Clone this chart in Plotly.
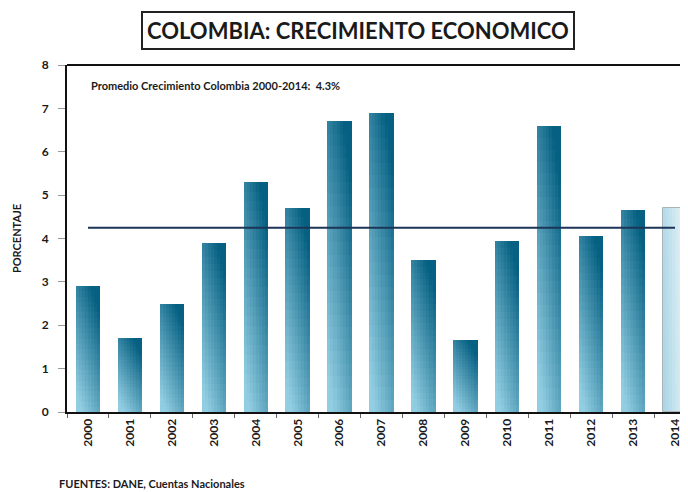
import plotly.graph_objects as go

# ---- data ----
anios = ["2000", "2001", "2002", "2003", "2004", "2005", "2006", "2007",
         "2008", "2009", "2010", "2011", "2012", "2013", "2014"]
crecimiento = [2.9, 1.7, 2.5, 3.9, 5.3, 4.7, 6.7, 6.9,
               3.5, 1.65, 3.95, 6.6, 4.05, 4.65, 4.7]
promedio = 4.25
y_ticks = [0, 1, 2, 3, 4, 5, 6, 7, 8]

titulo = "COLOMBIA: CRECIMIENTO ECONOMICO"
nota = "Promedio Crecimiento Colombia 2000-2014:  4.3%"
fuente = "FUENTES: DANE, Cuentas Nacionales"

# ---- styling ----
FONT = "Lato"
TXT = "#1a1a1a"
BAR_W = 0.58
LIGHT = (146, 206, 226)
DARK = (6, 96, 130)
PALE_L = (168, 212, 228)
PALE_R = (238, 247, 250)
N_COL, N_ROW = 8, 24


def mix(a, b, t):
    t = max(0.0, min(1.0, t))
    return "rgb(%d,%d,%d)" % tuple(round(a[k] + (b[k] - a[k]) * t) for k in range(3))


n = len(anios)
last = n - 1
fig = go.Figure()

# underlying solid bars (avoid seams)
fig.add_trace(go.Bar(
    x=anios, y=crecimiento, width=BAR_W,
    marker=dict(color=[mix(LIGHT, DARK, 0.55)] * last + [mix(PALE_L, PALE_R, 0.5)],
                line=dict(width=0)),
    hoverinfo="skip", showlegend=False))

# gradient slices of every bar
for i in range(N_COL):
    cx = (i + 0.5) / N_COL
    for j in range(N_ROW):
        ry = (j + 0.5) / N_ROW
        t = 0.5 * cx + 0.8 * ry - 0.12
        colors = [mix(LIGHT, DARK, t)] * last + [mix(PALE_L, PALE_R, 0.15 + 0.85 * cx - 0.15 * (1 - ry))]
        fig.add_trace(go.Bar(
            x=anios,
            y=[v / N_ROW for v in crecimiento],
            base=[v * j / N_ROW for v in crecimiento],
            width=BAR_W / N_COL,
            offset=-BAR_W / 2 + i * BAR_W / N_COL,
            marker=dict(color=colors, line=dict(width=0)),
            hoverinfo="skip", showlegend=False))

# outline for the 2014 bar
fig.add_trace(go.Bar(
    x=anios, y=crecimiento, width=BAR_W,
    marker=dict(color="rgba(0,0,0,0)",
                line=dict(color=["rgba(0,0,0,0)"] * last + ["#a9b4b9"], width=1)),
    hoverinfo="skip", showlegend=False))

# average line
fig.add_trace(go.Scatter(
    x=[anios[0], anios[-1]], y=[promedio, promedio], mode="lines",
    line=dict(color="#1c3557", width=2), hoverinfo="skip", showlegend=False))

fig.update_layout(
    width=680, height=484,
    margin=dict(l=59, r=0, t=57, b=80, autoexpand=False),
    paper_bgcolor="white", plot_bgcolor="white",
    barmode="overlay", bargap=0,
    font=dict(family=FONT, color=TXT),
    xaxis=dict(
        type="category", range=[-0.5, 14.31], automargin=False,
        tickangle=-90, tickson="boundaries",
        ticks="outside", ticklen=4, tickwidth=1, tickcolor="#666",
        tickfont=dict(family=FONT, size=12, color=TXT, weight="bold"),
        showline=True, linecolor="#111", linewidth=2,
        showgrid=False, zeroline=False, fixedrange=True),
    yaxis=dict(
        range=[0, 8], tickvals=y_ticks, automargin=False,
        ticks="outside", ticklen=7, tickwidth=1, tickcolor="#999",
        ticklabelstandoff=7,
        tickfont=dict(family=FONT, size=12, color=TXT, weight="bold"),
        showline=True, linecolor="#111", linewidth=2,
        showgrid=False, zeroline=False,
        title=dict(text="PORCENTAJE", standoff=18,
                   font=dict(family=FONT, size=11, color=TXT, weight="bold"))),
    shapes=[dict(type="line", xref="paper", yref="paper", x0=0, x1=1, y0=1, y1=1,
                 line=dict(color="#111", width=2))],
    annotations=[
        dict(text=titulo, xref="paper", yref="paper", x=0.4686, y=1.0,
             yshift=35, xanchor="center", yanchor="middle", showarrow=False,
             font=dict(family=FONT, size=22, color=TXT, weight="bold"),
             bordercolor="#222", borderwidth=2, borderpad=4, bgcolor="white"),
        dict(text=nota, xref="paper", yref="paper", x=0, xshift=22, y=1.0, yshift=-20,
             xanchor="left", yanchor="middle", showarrow=False,
             font=dict(family=FONT, size=11, color=TXT, weight="bold")),
        dict(text=fuente, xref="paper", yref="paper", x=0, xshift=-10, y=0, yshift=-71,
             xanchor="left", yanchor="middle", showarrow=False,
             font=dict(family=FONT, size=11, color=TXT, weight="bold")),
    ],
)

fig.write_html("out.html")
